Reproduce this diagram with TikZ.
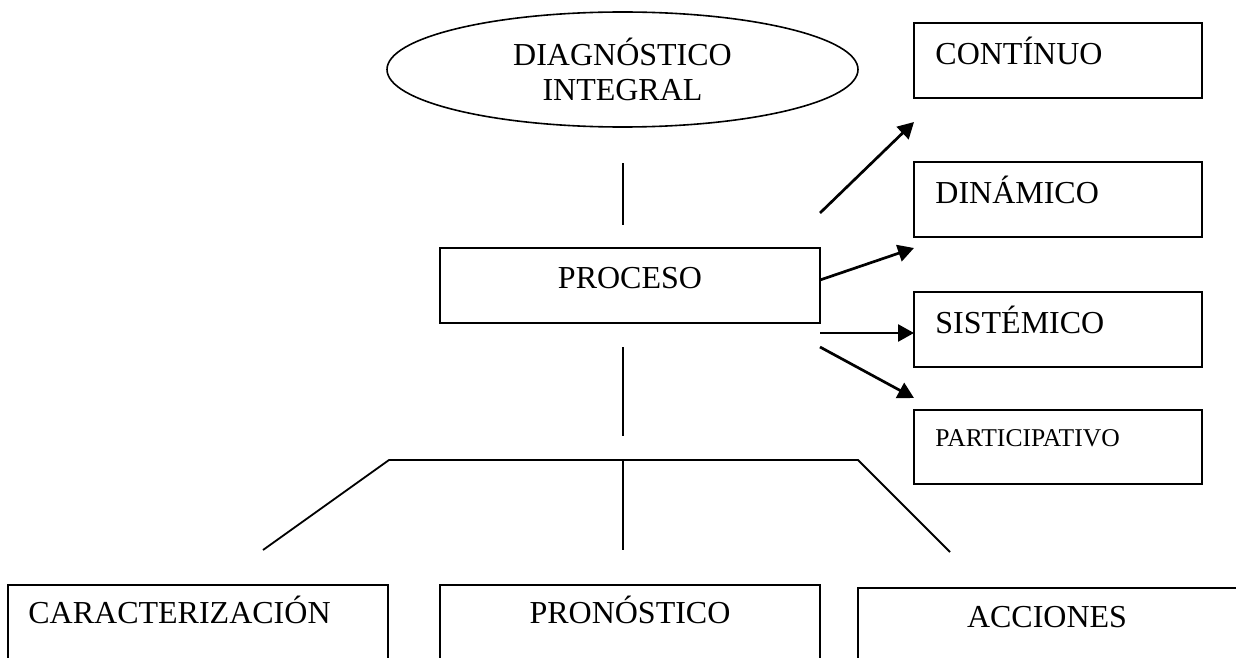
\documentclass[tikz,border=0pt]{standalone}
\usepackage{fontspec}
\setmainfont{Liberation Serif}
\usetikzlibrary{shapes.geometric,arrows.meta}
\begin{document}
\begin{tikzpicture}[x=0.5pt,y=-0.5pt,
  box/.style={draw, line width=0.9pt, rectangle, inner sep=0pt},
  lbl/.style={inner sep=0pt, font=\fontsize{16}{17.5}\selectfont},
  smalllbl/.style={inner sep=0pt, font=\fontsize{12.8}{14}\selectfont},
  link/.style={line width=0.9pt},
  arr/.style={line width=1.35pt, -{Triangle[length=8pt,width=8.5pt]}}]
\useasboundingbox (0,0) rectangle (1236,658);
\clip (0,0) rectangle (1236,658);

% top ellipse
\node[ellipse, draw, line width=0.8pt, minimum width=235.5pt, minimum height=57.5pt,
      align=center, lbl] (diag) at (622.5,69.5) {DIAGNÓSTICO\\INTEGRAL};

% central box
\node[box, minimum width=190pt, minimum height=37.5pt] (proc) at (630,285.5) {};
\node[lbl, anchor=base] (proct) at (630,288) {PROCESO};

% right column
\node[box, minimum width=144pt, minimum height=37.5pt] (cont) at (1058,60.5) {};
\node[box, minimum width=144pt, minimum height=37.5pt] (dina) at (1058,199.5) {};
\node[box, minimum width=144pt, minimum height=37.5pt] (sist) at (1058,329.5) {};
\node[box, minimum width=144pt, minimum height=37pt] (part) at (1058,447) {};
\node[lbl, anchor=base west] (contt) at (935,65) {CONTÍNUO};
\node[lbl, anchor=base west] (dinat) at (935,203) {DINÁMICO};
\node[lbl, anchor=base west] (sistt) at (935,333) {SISTÉMICO};
\node[smalllbl, anchor=base west] (partt) at (935,446) {PARTICIPATIVO};

% bottom row
\node[box, minimum width=190pt, minimum height=37.5pt] (carac) at (198,622.5) {};
\node[box, minimum width=190pt, minimum height=37.5pt] (pron) at (630,622.5) {};
\node[box, minimum width=194pt, minimum height=37.5pt] (acc) at (1052,625.5) {};
\node[lbl, anchor=base west] (caract) at (28,623) {CARACTERIZACIÓN};
\node[lbl, anchor=base] (pront) at (630,623) {PRONÓSTICO};
\node[lbl, anchor=base] (acct) at (1047,627) {ACCIONES};

% vertical links
\coordinate (v1a) at (623,163);
\coordinate (v1b) at (623,225);
\coordinate (v2a) at (623,347);
\coordinate (v2b) at (623,436);
\draw[link] (v1a) -- (v1b);
\draw[link] (v2a) -- (v2b);

% arrows to the right column
\coordinate (a1s) at (820,213); \coordinate (a1e) at (914,122);
\coordinate (a2s) at (820,280); \coordinate (a2e) at (914,248);
\coordinate (a3s) at (820,333); \coordinate (a3e) at (914,333);
\coordinate (a4s) at (820,347); \coordinate (a4e) at (914,398);
\draw[arr] (a1s) -- (a1e);
\draw[arr] (a2s) -- (a2e);
\draw[arr] (a3s) -- (a3e);
\draw[arr] (a4s) -- (a4e);

% branching to the bottom row
\coordinate (tl) at (389,460);
\coordinate (tm) at (623,460);
\coordinate (tr) at (858,460);
\coordinate (bl) at (263,550);
\coordinate (bm) at (623,550);
\coordinate (br) at (950,552);
\draw[link] (bl) -- (tl) -- (tr) -- (br);
\draw[link] (tm) -- (bm);
\end{tikzpicture}
\end{document}
